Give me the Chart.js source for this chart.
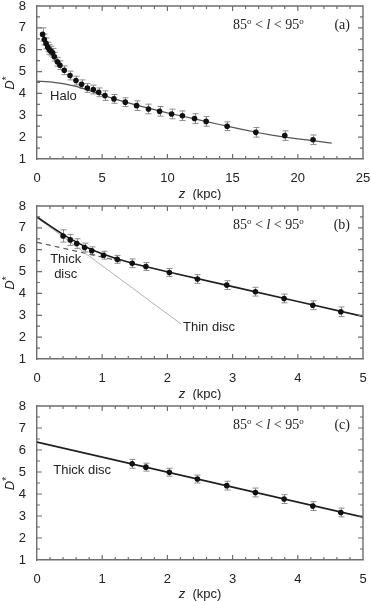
<!DOCTYPE html>
<html>
<head>
<meta charset="utf-8">
<script src="https://cdn.jsdelivr.net/npm/chart.js@4/dist/chart.umd.min.js"></script>
<style>
    html, body { margin: 0; padding: 0; background: #fff; }
    .panel { position: absolute; left: 0; width: 371px; }
    canvas { display: block; }
</style>
</head>
<body>
<div class="panel" style="top:0"><canvas id="chartA" width="371" height="200"></canvas></div>
<div class="panel" style="top:200px"><canvas id="chartB" width="371" height="200"></canvas></div>
<div class="panel" style="top:400px"><canvas id="chartC" width="371" height="201"></canvas></div>
<script>
// Panel (a): all z, halo fit
const aZ = [0.43, 0.56, 0.69, 0.82, 0.94, 1.05, 1.2, 1.33, 1.56, 1.76, 2.09, 2.53, 2.99, 3.42, 3.86, 4.32, 4.73, 5.21, 5.9, 6.77, 7.64, 8.55, 9.4, 10.32, 11.15, 12.08, 12.97, 14.58, 16.78, 19.0, 21.17];
const aD = [6.70, 6.47, 6.29, 6.12, 6.01, 5.94, 5.86, 5.68, 5.45, 5.29, 5.06, 4.82, 4.59, 4.42, 4.25, 4.18, 4.05, 3.90, 3.75, 3.60, 3.44, 3.29, 3.18, 3.06, 2.98, 2.85, 2.72, 2.50, 2.22, 2.07, 1.88];
const aErr = [0.3, 0.25, 0.25, 0.22, 0.22, 0.22, 0.2, 0.2, 0.2, 0.2, 0.2, 0.2, 0.2, 0.2, 0.2, 0.2, 0.2, 0.22, 0.2, 0.2, 0.22, 0.22, 0.22, 0.22, 0.22, 0.22, 0.22, 0.2, 0.22, 0.22, 0.22];
const haloZ = [0, 1, 2, 3, 4, 5, 6, 7, 8, 9, 10, 11, 12, 13, 14, 15, 16, 17, 18, 19, 20, 21, 22, 22.6];
const haloD = [4.56, 4.53, 4.45, 4.32, 4.14, 3.93, 3.74, 3.57, 3.41, 3.26, 3.11, 2.98, 2.85, 2.71, 2.58, 2.45, 2.32, 2.20, 2.09, 2.00, 1.92, 1.85, 1.77, 1.73];

// Panel (b): z < 5 kpc, thin + thick disc
const bZ = [0.40, 0.51, 0.61, 0.73, 0.84, 1.02, 1.23, 1.46, 1.67, 2.03, 2.46, 2.91, 3.35, 3.79, 4.23, 4.66];
const bD = [6.63, 6.45, 6.28, 6.10, 5.95, 5.75, 5.56, 5.38, 5.23, 4.96, 4.66, 4.38, 4.08, 3.77, 3.46, 3.16];
const bErr = [0.28, 0.25, 0.22, 0.2, 0.18, 0.18, 0.18, 0.2, 0.18, 0.18, 0.2, 0.2, 0.2, 0.2, 0.2, 0.22];
const totalZ = [0, 0.1, 0.2, 0.3, 0.4, 0.5, 0.6, 0.7, 0.8, 0.9, 1.0, 1.2, 1.5, 2, 3, 4, 5];
const totalD = [7.50, 7.29, 7.09, 6.89, 6.70, 6.52, 6.36, 6.20, 6.06, 5.93, 5.81, 5.61, 5.35, 4.99, 4.31, 3.63, 2.95];
const thinZ = [0, 2.21];
const thinD = [7.47, 2.60];
const thickDashZ = [0, 1.3];
const thickDashD = [6.34, 5.46];

// Panel (c): thick disc only
const cZ = [1.46, 1.67, 2.03, 2.46, 2.91, 3.35, 3.79, 4.23, 4.66];
const cD = [5.37, 5.22, 4.99, 4.68, 4.38, 4.07, 3.77, 3.45, 3.16];
const cErr = [0.2, 0.18, 0.18, 0.18, 0.2, 0.2, 0.2, 0.2, 0.2];
const thickZ = [0, 5];
const thickD = [6.36, 2.95];

const yTicks = [1, 8, 1];   // min, max, step

document.addEventListener("DOMContentLoaded", function () {
    const colors = {
        point: "#111",
        errbar: "#8c8c8c",
        frame: "#6e6e6e",
        text: "#222",
        total: "#1e1e1e",
        halo: "#555",
        thin: "#b0b0b0",
        thick: "#555",
    };
    const sans = "'Liberation Sans', Arial, sans-serif";
    const serif = "'Liberation Serif', 'Times New Roman', serif";

    function pts(xs, ys) {
        return xs.map((x, i) => ({ x: x, y: ys[i] }));
    }

    // top/right frame lines and inward ticks on all four sides
    function drawFrame(chart, cfg) {
        const ctx = chart.ctx;
        const a = chart.chartArea;
        const xs = chart.scales.x;
        const ys = chart.scales.y;
        const L = a.left;
        const R = a.right;
        const T = a.top;
        const B = a.bottom;
        ctx.save();
        ctx.strokeStyle = colors.frame;
        ctx.lineWidth = 1.4;
        ctx.setLineDash([]);
        ctx.beginPath();
        ctx.moveTo(L, T);
        ctx.lineTo(R, T);
        ctx.lineTo(R, B);
        ctx.stroke();
        ctx.lineWidth = 1.2;
        ctx.beginPath();
        const n = Math.round(cfg.xMax / cfg.xMinor);
        for (let i = 1; i < n; i++) {
            const v = i * cfg.xMinor;
            const q = v / cfg.xMajor;
            const len = Math.abs(q - Math.round(q)) < 1e-6 ? 5 : 3;
            const px = xs.getPixelForValue(v);
            ctx.moveTo(px, B);
            ctx.lineTo(px, B - len);
            ctx.moveTo(px, T);
            ctx.lineTo(px, T + len);
        }
        for (let i = 1; i < 14; i++) {
            const v = yTicks[0] + i * 0.5;
            const len = i % 2 === 0 ? 5 : 3;
            const py = ys.getPixelForValue(v);
            ctx.moveTo(L, py);
            ctx.lineTo(L + len, py);
            ctx.moveTo(R, py);
            ctx.lineTo(R - len, py);
        }
        ctx.stroke();
        ctx.restore();
    }

    // vertical error bars from dataset.errors
    function drawErrors(chart) {
        const ctx = chart.ctx;
        const ys = chart.scales.y;
        ctx.save();
        ctx.strokeStyle = colors.errbar;
        ctx.lineWidth = 1;
        chart.data.datasets.forEach((ds, di) => {
            if (!ds.errors) return;
            const meta = chart.getDatasetMeta(di);
            meta.data.forEach((el, i) => {
                const v = ds.data[i].y;
                const e = ds.errors[i];
                const x = Math.round(el.x) + 0.5;
                const y1 = ys.getPixelForValue(v + e);
                const y2 = ys.getPixelForValue(v - e);
                ctx.beginPath();
                ctx.moveTo(x, y1);
                ctx.lineTo(x, y2);
                ctx.moveTo(x - 3, y1);
                ctx.lineTo(x + 3, y1);
                ctx.moveTo(x - 3, y2);
                ctx.lineTo(x + 3, y2);
                ctx.stroke();
            });
        });
        ctx.restore();
    }

    function drawText(chart, cfg) {
        const ctx = chart.ctx;
        const a = chart.chartArea;
        const xs = chart.scales.x;
        const ys = chart.scales.y;
        ctx.save();
        ctx.fillStyle = colors.text;
        ctx.textBaseline = "alphabetic";
        ctx.textAlign = "left";

        // x title: z (kpc)
        ctx.font = "italic 13px " + sans;
        const wz = ctx.measureText("z").width;
        ctx.font = "13px " + sans;
        const wr = ctx.measureText("  (kpc)").width;
        const x0 = (a.left + a.right) / 2 - (wz + wr) / 2;
        ctx.font = "italic 13px " + sans;
        ctx.fillText("z", x0, 198);
        ctx.font = "13px " + sans;
        ctx.fillText("  (kpc)", x0 + wz, 198);

        // y title: D*
        ctx.save();
        ctx.translate(14, (a.top + a.bottom) / 2);
        ctx.rotate(-Math.PI / 2);
        ctx.font = "italic 13px " + sans;
        const wd = ctx.measureText("D").width;
        ctx.fillText("D", -(wd + 5) / 2, 0);
        ctx.font = "10px " + sans;
        ctx.fillText("*", -(wd + 5) / 2 + wd, -4);
        ctx.restore();

        // annotation: 85° < l < 95°  (x)
        const base = a.top + 23;
        let cx = a.right - 130;
        const parts = [
            ["85", "14px " + serif, 0],
            ["o", "9px " + serif, -5],
            [" < ", "14px " + serif, 0],
            ["l", "italic 14px " + serif, 0],
            [" < ", "14px " + serif, 0],
            ["95", "14px " + serif, 0],
            ["o", "9px " + serif, -5],
        ];
        parts.forEach((p) => {
            ctx.font = p[1];
            ctx.fillText(p[0], cx, base + p[2]);
            cx += ctx.measureText(p[0]).width;
        });
        ctx.font = "14px " + serif;
        ctx.textAlign = "right";
        ctx.fillText(cfg.tag, a.right - 13, base);

        // curve labels
        ctx.font = "13px " + sans;
        ctx.textBaseline = "middle";
        cfg.labels.forEach((l) => {
            ctx.textAlign = l.align;
            ctx.fillText(l.text, xs.getPixelForValue(l.x), ys.getPixelForValue(l.y));
        });
        ctx.restore();
    }

    function noPadding(scale) {
        scale.paddingTop = 0;
        scale.paddingBottom = 0;
        scale.paddingLeft = 0;
        scale.paddingRight = 0;
    }

    function makeChart(id, xMax, xStep, xMinor, datasets, tag, labels) {
        const canvas = document.getElementById(id);
        if (!canvas) {
            console.error(id + " element not found");
            return;
        }
        const cfg = { xMax: xMax, xMajor: xStep, xMinor: xMinor, tag: tag, labels: labels };
        const panelPlugin = {
            id: "panelDecor",
            beforeDatasetsDraw(chart) {
                drawErrors(chart);
            },
            afterDraw(chart) {
                drawFrame(chart, cfg);
                drawText(chart, cfg);
            },
        };
        new Chart(canvas.getContext("2d"), {
            type: "scatter",
            data: { datasets: datasets },
            options: {
                responsive: false,
                animation: false,
                devicePixelRatio: 1,
                layout: { padding: { left: 0, right: 8, top: 6, bottom: 0 } },
                plugins: {
                    legend: { display: false },
                    tooltip: { enabled: false },
                },
                scales: {
                    x: {
                        type: "linear",
                        min: 0,
                        max: xMax,
                        grid: { display: false, drawTicks: false },
                        border: { display: true, color: colors.frame, width: 1.4 },
                        ticks: {
                            stepSize: xStep,
                            padding: 12,
                            color: colors.text,
                            font: { size: 13, family: sans },
                        },
                        afterFit(scale) {
                            scale.height = 41;
                            noPadding(scale);
                        },
                    },
                    y: {
                        type: "linear",
                        min: yTicks[0],
                        max: yTicks[1],
                        grid: { display: false, drawTicks: false },
                        border: { display: true, color: colors.frame, width: 1.4 },
                        ticks: {
                            stepSize: yTicks[2],
                            padding: 11,
                            color: colors.text,
                            font: { size: 13, family: sans },
                        },
                        afterFit(scale) {
                            scale.width = 37;
                            noPadding(scale);
                        },
                    },
                },
            },
            plugins: [panelPlugin],
        });
    }

    function pointSet(xs, ys, errs) {
        return {
            data: pts(xs, ys),
            errors: errs,
            pointRadius: 2.8,
            pointBackgroundColor: colors.point,
            pointBorderWidth: 0,
            showLine: false,
            order: 0,
        };
    }

    function lineSet(xs, ys, color, width, dash) {
        return {
            data: pts(xs, ys),
            showLine: true,
            borderColor: color,
            borderWidth: width,
            borderDash: dash || [],
            pointRadius: 0,
            tension: 0,
            order: 1,
        };
    }

    // Panel (a)
    makeChart("chartA", 25, 5, 1, [
        pointSet(aZ, aD, aErr),
        lineSet(haloZ, haloD, colors.halo, 1.2),
    ], "(a)", [
        { x: 1.0, y: 3.85, text: "Halo", align: "left" },
    ]);

    // Panel (b)
    makeChart("chartB", 5, 1, 0.2, [
        pointSet(bZ, bD, bErr),
        lineSet(totalZ, totalD, colors.total, 1.6),
        lineSet(thinZ, thinD, colors.thin, 1),
        lineSet(thickDashZ, thickDashD, colors.thick, 1.2, [5, 4]),
    ], "(b)", [
        { x: 0.44, y: 5.56, text: "Thick", align: "center" },
        { x: 0.44, y: 4.87, text: "disc", align: "center" },
        { x: 2.24, y: 2.43, text: "Thin disc", align: "left" },
    ]);

    // Panel (c)
    makeChart("chartC", 5, 1, 0.2, [
        pointSet(cZ, cD, cErr),
        lineSet(thickZ, thickD, colors.total, 1.6),
    ], "(c)", [
        { x: 0.25, y: 5.07, text: "Thick disc", align: "left" },
    ]);
});
</script>
</body>
</html>
